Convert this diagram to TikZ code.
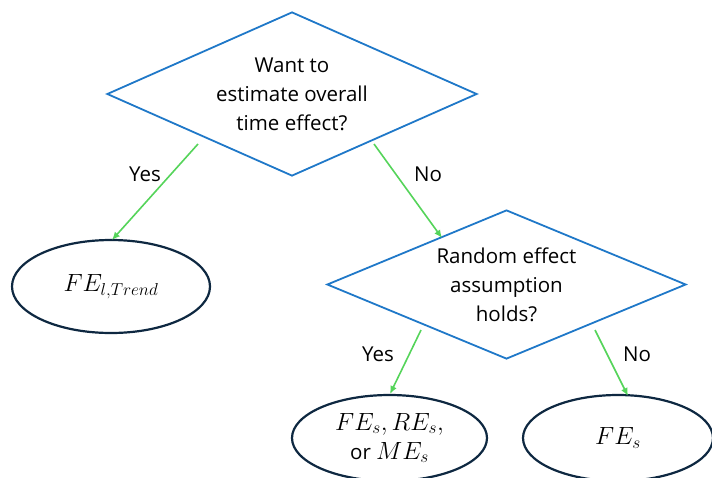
\documentclass[tikz,border=0pt]{standalone}
\usepackage{fontspec}
\setmainfont{Open Sans}
\usetikzlibrary{shapes.geometric,arrows.meta}
\definecolor{dblue}{HTML}{1F78C8}
\definecolor{agreen}{HTML}{55D45A}
\definecolor{navy}{HTML}{0E2841}
\tikzset{
  decision/.style={diamond, draw=dblue, line width=1.8pt, inner sep=0pt, align=center, font=\fontsize{20.5}{29}\selectfont},
  outcome/.style={ellipse, draw=navy, line width=2.2pt, inner sep=0pt, align=center, font=\fontsize{20.5}{29}\selectfont},
  flow/.style={draw=agreen, line width=1.6pt, -{Latex[length=8pt,width=7pt]}},
  lbl/.style={font=\fontsize{20.5}{22}\selectfont}
}
\newcommand{\mth}[1]{{\fontsize{23}{29}\selectfont$#1$}}
\begin{document}
\begin{tikzpicture}[x=1pt,y=-1pt]
\useasboundingbox (0,0) rectangle (712,477);
\node[decision, aspect=2.26, minimum width=370pt, minimum height=164pt] (d1) at (292,94) {Want to\\estimate overall\\time effect?};
\node[decision, aspect=2.41, minimum width=359pt, minimum height=149pt] (d2) at (506.5,284.5) {Random effect\\assumption\\holds?};
\node[outcome, minimum width=198pt, minimum height=93pt] (e1) at (111,286.5) {\mth{FE_{l,Trend}}};
\node[outcome, minimum width=195pt, minimum height=86pt] (e2) at (389.5,438) {\mth{FE_s, RE_s,}\\or \mth{ME_s}};
\node[outcome, minimum width=190pt, minimum height=86pt] (e3) at (618,438) {\mth{FE_s}};
\coordinate (y1s) at (198,144);
\coordinate (y1e) at (112,240);
\coordinate (n1s) at (374,144);
\coordinate (n1e) at (442,238);
\coordinate (y2s) at (421,330);
\coordinate (y2e) at (390,394);
\coordinate (n2s) at (595,330);
\coordinate (n2e) at (628,396);
\draw[flow] (y1s) -- (y1e);
\draw[flow] (n1s) -- (n1e);
\draw[flow] (y2s) -- (y2e);
\draw[flow] (n2s) -- (n2e);
\node[lbl] (ly1) at (145,174) {Yes};
\node[lbl] (ln1) at (428,174) {No};
\node[lbl] (ly2) at (378,354) {Yes};
\node[lbl] (ln2) at (637,354) {No};
\end{tikzpicture}
\end{document}
